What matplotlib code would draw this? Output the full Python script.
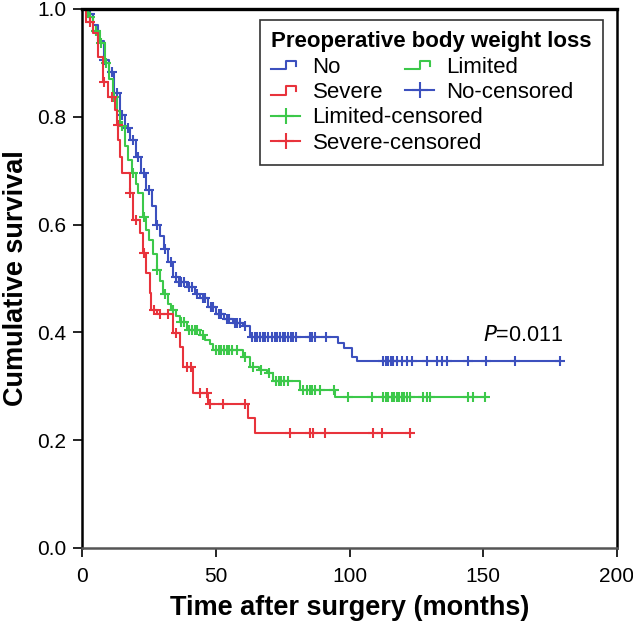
import numpy as np
import matplotlib
matplotlib.use("Agg")
import matplotlib.pyplot as plt
from matplotlib.lines import Line2D
from matplotlib.legend_handler import HandlerBase

plt.rcParams['font.family'] = ['Liberation Sans', 'DejaVu Sans']

# Kaplan-Meier step data (months, cumulative survival)
no_t = [0, 2, 4, 6, 8, 10, 12, 14, 16, 18, 20, 22, 24, 26, 27.5, 29, 30.5, 32, 34, 36,
        39, 42, 44, 47, 50, 53, 56.5, 60, 62.7, 95.5, 98, 101, 102.6]
no_s = [1.0, 0.99, 0.97, 0.94, 0.905, 0.883, 0.845, 0.803, 0.78, 0.757, 0.725, 0.695,
        0.665, 0.635, 0.60, 0.578, 0.555, 0.53, 0.503, 0.493, 0.484, 0.472, 0.463, 0.448,
        0.435, 0.425, 0.417, 0.411, 0.392, 0.38, 0.371, 0.354, 0.347]
no_end = 178.6
no_cens = [3, 8, 11, 13, 15, 17, 19, 21, 23, 25, 28, 31, 33, 35, 36, 37, 38, 40, 41, 43,
           45, 46, 48, 49, 51, 52, 54, 55, 57, 58, 59, 61, 63.5, 64.5, 65.5, 66.5, 67.5,
           68.5, 69.5, 71, 72, 73, 74, 75, 76, 77, 78, 79, 80, 85, 86, 87, 91, 112.6,
           113.5, 114.5, 115.5, 116.3, 117.6, 119.4, 121.3, 123.2, 128.8, 132.5, 134.4,
           136.3, 144.4, 151, 161.8, 178.6]

lim_t = [0, 2, 4, 6.6, 8.5, 10, 11.6, 13, 14.1, 16, 17.2, 18.5, 20, 21, 22.8, 24, 25,
         26.5, 27.8, 29, 30.3, 32, 33, 35, 36.5, 39, 44, 46, 47.8, 49, 60.2, 62.7, 66,
         69, 71.4, 81.4, 94.5]
lim_s = [1.0, 0.985, 0.96, 0.937, 0.90, 0.87, 0.837, 0.81, 0.782, 0.745, 0.72, 0.696,
         0.675, 0.658, 0.615, 0.59, 0.571, 0.545, 0.515, 0.495, 0.472, 0.452, 0.442, 0.43,
         0.42, 0.404, 0.395, 0.385, 0.378, 0.367, 0.355, 0.336, 0.33, 0.324, 0.309, 0.293,
         0.28]
lim_end = 150.6
lim_cens = [3, 5, 7, 9, 12, 15, 19, 23, 28, 31, 34, 37, 38, 40, 41, 42, 43, 45, 50, 51,
            52, 53, 54, 55, 56, 58, 61, 64, 67, 70, 72.5, 73.5, 74.5, 75.5, 77, 82.6, 84,
            85, 86, 87, 89, 94, 99.5, 108.2, 112.6, 113.5, 114.5, 115.7, 116.5, 117.6,
            118.5, 119.5, 120.5, 121.3, 122.5, 127.4, 128.8, 130, 144.4, 146.1, 150.6]

sev_t = [0, 1.5, 4, 6, 7.9, 9.7, 12.2, 13, 13.5, 14.2, 14.7, 17.8, 19.1, 21.6, 22.8,
         24, 25.3, 25.8, 27.8, 34, 36.5, 37.8, 41.5, 47.1, 62, 64.6]
sev_s = [1.0, 0.975, 0.955, 0.91, 0.865, 0.837, 0.813, 0.785, 0.757, 0.725, 0.695,
         0.658, 0.609, 0.584, 0.547, 0.51, 0.473, 0.442, 0.435, 0.398, 0.373, 0.336,
         0.287, 0.268, 0.241, 0.213]
sev_end = 122.5
sev_cens = [3, 8, 11, 13.2, 18, 20, 23, 27, 29, 32, 35, 39, 40.5, 44, 46.5, 47.8, 52.7,
            60.8, 77.7, 85.1, 86.4, 90.8, 108.8, 112, 122.5]

c_no = '#3c50be'
c_lim = '#3cc84a'
c_sev = '#e8333c'


def draw_km(ax, t, s, end, cens, color):
    t = np.array(t + [end])
    s = np.array(s + [s[-1]])
    ax.step(t, s, where='post', color=color, lw=1.5)
    idx = np.searchsorted(t, cens, side='right') - 1
    ax.plot(cens, s[idx], ls='none', marker='+', ms=7, mew=1.5, color=color)


class StepHandler(HandlerBase):
    def create_artists(self, legend, orig_handle, xd, yd, w, h, fontsize, trans):
        lo, hi = -yd + 0.2 * h, -yd + 0.75 * h
        xs = np.array([0, 0.5, 0.5, 0.85, 0.85]) * w - xd
        ys = [lo, lo, hi, hi, hi - 0.3 * h]
        ln = Line2D(xs, ys, color=orig_handle.get_color(), lw=1.5, transform=trans)
        return [ln]


fig = plt.figure(figsize=(6.33, 6.24), dpi=100)
ax = fig.add_axes([0.130, 0.1218, 0.8447, 0.8638])

draw_km(ax, no_t, no_s, no_end, no_cens, c_no)
draw_km(ax, lim_t, lim_s, lim_end, lim_cens, c_lim)
draw_km(ax, sev_t, sev_s, sev_end, sev_cens, c_sev)

ax.set_xlim(0, 200)
ax.set_ylim(0, 1.0)
ax.set_xticks([0, 50, 100, 150, 200])
ax.set_yticks([0.0, 0.2, 0.4, 0.6, 0.8, 1.0])
ax.set_yticklabels(['0.0', '0.2', '0.4', '0.6', '0.8', '1.0'])
ax.tick_params(labelsize=15, length=6.5, width=1.2, direction='out')
ax.tick_params(axis='x', pad=7)
ax.tick_params(axis='y', pad=5)
for sp in ax.spines.values():
    sp.set_linewidth(1.8)
ax.spines['top'].set_linewidth(2.4)
ax.spines['bottom'].set_color('#555555')

ax.set_xlabel('Time after surgery (months)', fontsize=19.5, fontweight='bold')
ax.set_ylabel('Cumulative survival', fontsize=19.5, fontweight='bold')
ax.xaxis.set_label_coords(0.5, -0.087)
ax.yaxis.set_label_coords(-0.10, 0.5)

ax.text(150, 0.395, '$\\it{P}$=0.011', fontsize=15.5, va='center', ha='left')

# legend: two entries per row for the first two rows, then one per row
h_no = Line2D([], [], color=c_no)
h_sev = Line2D([], [], color=c_sev)
h_lim = Line2D([], [], color=c_lim)
h_noc = Line2D([], [], color=c_no, marker='+', ms=11, mew=1.5, lw=1.5)
h_limc = Line2D([], [], color=c_lim, marker='+', ms=11, mew=1.5, lw=1.5)
h_sevc = Line2D([], [], color=c_sev, marker='+', ms=11, mew=1.5, lw=1.5)
blank = Line2D([], [], color='none')
handles = [h_no, h_sev, h_limc, h_sevc, h_lim, h_noc, blank, blank]
labels = ['No', 'Severe', 'Limited-censored', 'Severe-censored', 'Limited',
          'No-censored', '', '']
leg = ax.legend(handles, labels, ncol=2, loc='upper right',
                bbox_to_anchor=(0.9738, 0.9796), fontsize=16,
                title='Preoperative body weight loss',
                title_fontproperties={'weight': 'bold', 'size': 16},
                handler_map={h_no: StepHandler(), h_sev: StepHandler(), h_lim: StepHandler()},
                handlelength=1.3, handletextpad=0.55, columnspacing=-3.5,
                labelspacing=0.2, borderpad=0.5, borderaxespad=0,
                fancybox=False, edgecolor='#333333', framealpha=1)
leg.get_frame().set_linewidth(1.2)
leg._legend_box.align = 'left'

fig.savefig('out.png', dpi=100)
